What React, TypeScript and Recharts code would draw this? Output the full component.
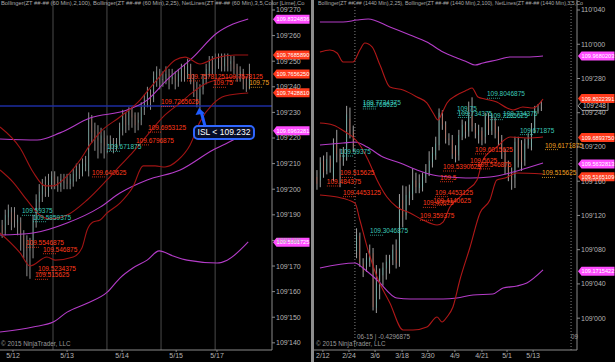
import { ComposedChart, Bar, Line, XAxis, YAxis, ReferenceLine, ReferenceDot } from 'recharts';

const FONT = '"Liberation Sans", Arial, sans-serif';
const RED = '#ff3b1c';
const TEAL = '#3cc8b8';
const ORANGE = '#f0a020';
const PINK = '#ff4cff';

// prices are kept in 32nds above 109 (109'245 -> 24.5), candles are [open, high, low, close]
const hourCandles = [
  [18.6, 18.8, 18.1, 18.3], [18.4, 19.2, 18.2, 19.0], [18.9, 19.4, 18.6, 19.2], [19.1, 19.3, 18.4, 18.7],
  [19.1, 19.3, 18.5, 18.8], [18.7, 19.0, 18.2, 18.8], [18.7, 18.9, 17.6, 18.2], [18.2, 18.4, 17.3, 17.8],
  [17.9, 18.2, 16.6, 17.6], [17.6, 18.1, 16.5, 17.9], [17.8, 19.0, 17.3, 18.9], [18.8, 19.8, 18.5, 19.6],
  [19.5, 20.2, 19.2, 19.9], [19.8, 20.4, 19.5, 20.2], [20.2, 20.5, 19.7, 19.9], [19.9, 20.6, 19.7, 20.3],
  [20.2, 20.7, 20.0, 20.5], [20.5, 20.7, 20.0, 20.2], [20.3, 20.5, 19.9, 20.1], [20.1, 20.6, 19.9, 20.4],
  [20.3, 20.6, 20.0, 20.3], [20.4, 20.6, 20.0, 20.2], [20.2, 20.6, 20.0, 20.4], [20.3, 20.8, 20.1, 20.6],
  [20.5, 21.0, 20.3, 20.8], [20.8, 21.0, 20.4, 20.6], [20.6, 21.2, 20.5, 21.0], [20.9, 21.3, 20.7, 21.0],
  [20.7, 23.0, 20.5, 22.8], [22.8, 22.9, 21.8, 22.2], [22.3, 22.6, 21.5, 22.0], [22.0, 22.5, 21.2, 21.9],
  [21.8, 22.4, 21.4, 22.1], [22.0, 22.3, 21.2, 21.7], [21.7, 22.1, 21.4, 21.8], [21.7, 22.1, 21.5, 21.9],
  [21.9, 22.0, 21.4, 21.7], [21.7, 22.0, 21.5, 21.8], [21.8, 22.6, 21.7, 22.4], [22.3, 23.1, 22.1, 22.9],
  [22.9, 23.0, 22.2, 22.5], [22.5, 23.2, 22.3, 23.1], [23.1, 23.2, 22.4, 22.8], [22.9, 23.0, 22.2, 22.5],
  [22.6, 23.0, 22.3, 22.7], [22.7, 23.4, 22.5, 23.2], [23.1, 23.7, 22.9, 23.5], [23.5, 24.0, 23.2, 23.8],
  [23.8, 23.9, 23.1, 23.4], [23.5, 24.6, 23.4, 24.4], [24.2, 24.8, 24.0, 24.6], [24.6, 24.7, 23.9, 24.3],
  [24.3, 24.6, 24.0, 24.3], [24.3, 24.8, 24.1, 24.5], [24.5, 24.7, 23.9, 24.2], [24.3, 24.7, 24.1, 24.4],
  [24.4, 24.6, 23.9, 24.2], [24.2, 24.7, 24.0, 24.5], [24.4, 24.9, 24.2, 24.7], [24.7, 24.9, 24.2, 24.4],
  [24.4, 25.1, 24.3, 24.8], [24.8, 24.9, 24.1, 24.3], [24.3, 24.5, 23.6, 23.9], [23.9, 24.2, 23.2, 23.5],
  [23.5, 24.1, 23.0, 23.9], [23.9, 24.5, 23.7, 24.3], [24.3, 24.9, 24.1, 24.7], [24.6, 25.2, 24.4, 25.0],
  [25.0, 25.2, 24.5, 24.7], [24.7, 25.3, 24.5, 25.1], [25.0, 25.3, 24.7, 25.0], [25.1, 25.3, 24.6, 24.8],
  [24.8, 25.3, 24.6, 25.1], [25.1, 25.3, 24.6, 24.8], [24.9, 25.2, 24.6, 25.0], [25.0, 25.2, 24.5, 24.7],
  [24.8, 24.9, 24.2, 24.4], [24.4, 24.8, 24.2, 24.6], [24.6, 24.7, 23.9, 24.1], [24.2, 24.4, 23.8, 24.0],
  [24.0, 24.9, 23.9, 24.6],
];

const dayCandles = [
  [16.5, 17.3, 15.0, 15.7], [16.1, 18.8, 15.3, 18.2], [18.4, 19.0, 16.4, 17.0], [17.2, 19.4, 16.8, 18.6],
  [18.6, 19.0, 17.0, 17.6], [16.6, 21.0, 16.0, 20.4], [20.4, 22.0, 18.2, 19.2], [19.2, 19.8, 15.3, 18.4],
  [18.4, 20.0, 17.8, 19.0], [18.9, 24.8, 18.4, 23.8], [23.3, 24.6, 21.0, 21.6], [21.8, 22.5, 19.4, 20.0],
  [7.8, 10.5, 7.0, 9.7], [9.6, 10.0, 6.0, 6.5], [6.4, 7.0, 4.8, 5.4], [6.0, 7.6, 5.4, 7.0],
  [6.6, 8.6, 6.0, 7.8], [7.6, 8.2, 0.9, 1.3], [1.2, 6.2, 0.6, 4.2], [3.8, 5.8, 2.2, 5.0],
  [5.0, 6.5, 3.8, 5.9], [5.8, 7.4, 4.5, 6.6], [6.4, 7.4, 5.2, 6.9], [6.8, 8.6, 6.2, 8.0],
  [8.0, 9.2, 5.8, 6.4], [6.5, 14.5, 6.0, 13.8], [13.8, 15.5, 10.6, 11.8], [12.0, 15.4, 11.5, 14.4],
  [14.0, 15.6, 13.2, 14.8], [14.5, 17.5, 13.8, 16.1], [16.1, 17.0, 14.6, 15.3], [15.2, 16.8, 14.6, 15.8],
  [15.3, 17.0, 14.8, 16.5], [16.4, 18.0, 15.8, 17.2], [17.0, 19.5, 16.6, 18.4], [18.2, 20.0, 17.6, 19.3],
  [19.0, 21.2, 18.5, 20.4], [20.2, 24.5, 19.6, 24.0], [23.6, 24.3, 22.0, 22.6], [22.6, 23.0, 20.4, 21.0],
  [21.0, 21.6, 20.2, 20.8], [20.8, 21.4, 18.6, 19.2], [19.6, 20.2, 18.2, 18.8], [19.0, 22.0, 18.4, 21.4],
  [21.2, 23.2, 20.8, 22.6], [22.6, 23.0, 21.0, 21.8], [21.8, 25.3, 21.2, 23.7], [23.7, 25.8, 21.8, 22.4],
  [22.2, 22.8, 21.0, 21.6], [21.4, 22.6, 20.4, 22.0], [21.9, 22.3, 20.2, 20.8], [21.2, 24.0, 20.4, 23.6],
  [23.4, 24.0, 21.4, 22.0], [21.9, 23.8, 21.4, 23.2], [23.0, 23.4, 21.0, 21.6], [21.8, 22.4, 20.2, 20.8],
  [20.8, 21.4, 18.6, 19.2], [19.2, 19.8, 16.8, 17.6], [17.8, 18.4, 16.0, 16.8], [16.9, 17.6, 15.0, 16.2],
  [16.4, 21.2, 15.2, 20.6], [20.8, 21.2, 17.6, 18.5], [20.4, 20.8, 17.2, 18.2], [18.4, 21.0, 17.8, 20.4],
  [20.2, 21.6, 19.8, 21.2], [20.0, 22.8, 19.6, 22.2], [22.0, 24.8, 21.6, 24.4], [24.2, 25.0, 23.9, 24.5],
  [24.6, 25.4, 24.2, 24.6],
];

// band curves, [bar index, level]
const hourBand100Up = [[-0.7, 21.96], [11.3, 21.92], [18.7, 22.2], [28.4, 22.78], [40.4, 23.09], [46.9, 23.48], [53.3, 24.27], [61.8, 25.16], [69.5, 26.1], [74.7, 26.45], [79.6, 26.65]];
const hourBand100Mid = [[-0.7, 18.21], [10, 18.29], [21, 18.68], [31.7, 19.3], [38.1, 19.85], [46.9, 20.36], [57.6, 20.75], [68.2, 21.53], [74.7, 21.92], [79.6, 22.27]];
const hourBand100Low = [[-0.7, 14.42], [10, 14.62], [16.5, 14.81], [21, 15.2], [27.5, 15.55], [34, 15.98], [38.1, 16.53], [42.3, 16.92], [46.9, 17.23], [50.8, 17.59], [55.3, 17.39], [59.8, 17.23], [69.5, 17.12], [72.8, 17.23], [79.6, 17.94]];
const hourBand25Up = [[-0.7, 22.43], [5.8, 21.61], [10, 20.67], [13.9, 20.13], [16.5, 20.13], [21, 20.52], [25.2, 21.14], [28.4, 21.73], [31.7, 22.23], [38.1, 22.82], [44.6, 23.48], [47.8, 23.95], [51.1, 24.42], [56, 25.05], [59.2, 25.16], [64, 24.89], [68.9, 25.12], [75.4, 25.24], [79.6, 25.24]];
const hourBand25Mid = [[-0.7, 20.75], [3.5, 20.28], [8, 19.58], [12.2, 18.99], [15.5, 18.84], [21, 18.99], [27.5, 19.58], [33.9, 20.36], [38.1, 20.91], [42.3, 21.45], [47.8, 22.23], [52.7, 22.9], [57.6, 23.37], [61.8, 23.8], [65.6, 24.11], [70.5, 24.3], [75.4, 24.38], [79.6, 24.38]];
const hourBand25Low = [[-0.7, 18.29], [5.8, 17.51], [9, 17.0], [14.5, 17.35], [17.1, 17.23], [23, 17.35], [25.8, 17.7], [27.5, 18.41], [29.4, 18.72], [31.7, 18.8], [33.9, 19.07], [38.1, 19.46], [42.3, 20.09], [45.6, 20.91], [49.5, 20.91], [52.7, 20.87], [56.9, 21.14], [60.8, 21.73], [64, 22.63], [68.2, 23.33], [72.1, 23.64], [79.6, 23.76]];

const dayBand100Up = [[0.9, 34.6], [7.9, 34.6], [12.1, 34.83], [15.5, 34.95], [22.1, 34.01], [28.2, 33.08], [33.3, 32.26], [38.2, 31.09], [42.4, 30.39], [45.5, 29.93], [47.9, 29.57], [50.3, 29.81], [54.5, 30.16], [58.5, 30.51], [63.6, 30.51], [68.5, 30.63]];
const dayBand100Mid = [[0.9, 20.23], [7.9, 20.46], [11.5, 20.58], [15.2, 20.0], [20, 18.83], [25.2, 18.13], [30.3, 17.31], [35.2, 16.72], [40.3, 16.49], [46.4, 16.37], [52.4, 16.49], [58.5, 16.96], [63.6, 17.54], [68.5, 18.13]];
const dayBand100Low = [[0.9, 5.86], [11.5, 6.44], [13.9, 5.86], [18.2, 4.46], [24.2, 2.36], [28.2, 2.24], [38.2, 2.24], [42.4, 2.36], [47.3, 2.71], [53.3, 2.82], [56.4, 3.52], [60.6, 3.76], [63.6, 4.11], [68.5, 5.63]];
const dayBand25Up = [[0.9, 31.09], [3.9, 31.33], [6.1, 30.98], [7.9, 29.93], [10.9, 29.93], [13, 31.33], [14.5, 32.14], [16.7, 31.68], [19.1, 29.57], [22.1, 27.0], [26.1, 26.65], [30.3, 25.84], [33.3, 25.14], [35.2, 23.97], [36.7, 23.15], [37.9, 23.97], [39.4, 25.14], [42.4, 26.07], [45.5, 26.65], [47, 26.89], [48.8, 25.84], [50.9, 25.6], [54.5, 25.25], [57.6, 24.55], [59.4, 24.32], [62.4, 24.67], [65.5, 24.55], [67.6, 25.14], [68.5, 25.6]];
const dayBand25Mid = [[0.9, 22.8], [4.8, 22.57], [9.1, 21.63], [10.9, 21.16], [13, 20.23], [15.5, 18.48], [18.2, 16.14], [21.2, 14.15], [24.2, 12.99], [28.2, 12.29], [32.1, 11.47], [36.4, 10.88], [38.2, 11.23], [40.3, 12.99], [43.3, 14.15], [45.5, 14.97], [48.5, 16.14], [50.3, 18.48], [54.5, 20.0], [58.5, 21.16], [63.6, 21.05], [68.5, 21.16]];
const dayBand25Low = [[0.9, 14.39], [6.1, 14.15], [11.5, 13.45], [13, 11.47], [15.2, 8.31], [18.2, 4.81], [22.1, 1.77], [26.1, -1.38], [29.1, -1.38], [33.3, -1.03], [36.4, 0.14], [37.9, -0.45], [39.4, 0.14], [41.2, 1.3], [43.3, 4.46], [46.4, 8.31], [49.4, 12.29], [52.4, 13.8], [54.5, 16.14], [57, 16.37], [60.6, 16.96], [68.5, 16.84]];

const hourTickLevels = [14, 15, 16, 17, 18, 19, 20, 21, 22, 23, 24, 25, 26, 27];
const dayTickLevels = [0, 4, 8, 12, 16, 20, 24, 28, 32, 36];

const hourDates = ['5/12', '5/13', '5/14', '5/15', '5/17'];
const hourDateIdx = [3.5, 21, 38.8, 56.3, 69.5];
const hourSessionIdx = [16.45, 33.9, 51.4, 68.9];

const dayDates = ['2/12', '2/24', '3/6', '3/18', '3/30', '4/9', '4/21', '5/1', '5/13'];
const dayDateIdx = [1.8, 9.7, 17.6, 25.8, 33.6, 41.8, 50, 57.6, 65.5];
const daySessionIdx = [11.5, 77];

// NetLines notes: [bar index, price text, colour]
const hourNotes: [number, string, string][] = [
  [59.8, '109.7578125', RED], [72.1, '109.7578125', RED], [68.2, '109.75', RED], [79.9, '109.75', ORANGE],
  [51.4, '109.7265625', RED], [47.2, '109.6953125', RED], [43.3, '109.6796875', RED], [33.9, '109.671875', TEAL],
  [29.1, '109.640625', RED], [6.4, '109.59375', TEAL], [10, '109.5859375', TEAL], [7.7, '109.5546875', RED],
  [13.2, '109.546875', RED], [11.6, '109.5234375', RED], [10.6, '109.515625', RED],
];
const dayNotes: [number, string, string][] = [
  [13.9, '109.7734375', TEAL], [13.9, '109.765625', TEAL], [7, '109.59375', TEAL], [7, '109.515625', RED],
  [3, '109.484375', RED], [7.9, '109.4453125', RED], [16.1, '109.3046875', TEAL], [35.8, '109.4453125', RED],
  [35.2, '109.4140625', RED], [32.1, '109.40625', RED], [31.2, '109.359375', RED], [38.2, '109.5390625', RED],
  [37.3, '109.5', RED], [46.4, '109.5625', RED], [48.5, '109.546875', RED], [47.9, '109.6015625', RED],
  [42.4, '109.75', TEAL], [42.7, '109.734375', TEAL], [52.4, '109.7265625', TEAL], [56.4, '109.734375', TEAL],
  [51.5, '109.8046875', TEAL], [61.5, '109.671875', TEAL], [69.1, '109.6171875', ORANGE], [68.2, '109.515625', ORANGE],
];

// price flags on the axis: [text, level where drawn, fill]
const hourFlags: [string, number, string][] = [
  ['109.8324836', 26.64, PINK], ['109.7685890', 25.24, RED], ['109.7656250', 24.5, RED],
  ['109.7428810', 23.77, RED], ['109.6963281', 22.28, PINK], ['109.5601725', 17.93, PINK],
];
const dayFlags: [string, number, string][] = [
  ['109.9680203', 30.63, PINK], ['109.8022391', 25.67, RED], ['109.6893750', 21.1, RED],
  ['109.5632813', 18.02, PINK], ['109.5165109', 16.53, RED], ['109.1715422', 5.49, PINK],
];
const dayLast = 24.8;
const islLevel = 23.25;

const fmt32 = (v: number) => {
  const whole = 109 + Math.floor(v / 32 + 1e-9);
  const frac = v - (whole - 109) * 32;
  return `${whole}'${String(Math.round(frac * 10)).padStart(3, '0')}`;
};

const toRows = (list: number[][]) =>
  list.map(([o, h, l, c], i) => ({ i, o, h, l, c, range: [l, h] }));
const toPts = (list: number[][]) => list.map(([i, v]) => ({ i, v }));
const noteLevel = (p: string) => (parseFloat(p) - 109) * 32;

const Candle = (props: any) => {
  const { x, y, width, height, payload, up, down, wick } = props;
  if (!payload) return null;
  const { o, h, l, c } = payload;
  const top = Math.min(y, y + height);
  const bot = Math.max(y, y + height);
  const k = (bot - top) / (h - l || 1);
  const yOf = (v: number) => top + (h - v) * k;
  const cx = x + width / 2;
  const bTop = yOf(Math.max(o, c));
  const bBot = yOf(Math.min(o, c));
  const fill = c > o ? up : c < o ? down : '#b0b0b0';
  return (
    <g>
      <line x1={cx} x2={cx} y1={top} y2={bot} stroke={wick} strokeWidth={1} />
      <rect x={x} y={bTop} width={width} height={Math.max(1, bBot - bTop)} fill={fill} />
    </g>
  );
};

const Note = ({ cx, cy, text, color }: any) => (
  <g>
    <text x={cx} y={cy - 1.5} fill={color} fontSize={6.5} fontFamily={FONT}>{text}</text>
    <line x1={cx} x2={cx + 13} y1={cy + 0.5} y2={cy + 0.5} stroke={color} strokeWidth={0.8} strokeDasharray="1 1" />
  </g>
);

const Flag = ({ cx, cy, text, fill }: any) => (
  <g>
    <path d={`M${cx + 1},${cy} L${cx + 4.5},${cy - 4.5} L${cx + 37.5},${cy - 4.5} L${cx + 37.5},${cy + 4.5} L${cx + 4.5},${cy + 4.5} Z`} fill={fill} />
    <text x={cx + 4.6} y={cy + 2.2} fill="#ffffff" fontSize={5.6} fontFamily={FONT}>{text}</text>
  </g>
);

const LastBox = ({ cx, cy, text }: any) => (
  <g>
    <path d={`M${cx + 1},${cy} L${cx + 5},${cy - 4.5} L${cx + 31},${cy - 4.5} L${cx + 31},${cy + 4.5} L${cx + 5},${cy + 4.5} Z`} fill="#000" stroke="#bdbdbd" strokeWidth={0.8} />
    <text x={cx + 6} y={cy + 2.4} fill="#c8c8c8" fontSize={6.5} fontFamily={FONT}>{text}</text>
  </g>
);

const IslCallout = ({ cx, cy }: any) => (
  <g>
    <line x1={cx + 5} y1={cy + 20} x2={cx + 1.5} y2={cy + 7} stroke="#1e5bff" strokeWidth={3} />
    <path d={`M${cx - 1},${cy + 2} L${cx - 4.5},${cy + 9} L${cx + 5},${cy + 7.5} Z`} fill="#1e5bff" />
    <rect x={cx - 6} y={cy + 20} width={60} height={13} rx={4} fill="#050c26" stroke="#2f66ff" strokeWidth={2} />
    <text x={cx + 24} y={cy + 29.5} textAnchor="middle" fill="#ffffff" fontSize={8.5} fontFamily={FONT}>ISL &lt; 109.232</text>
  </g>
);

const axisTick = { fill: '#b4b4b4', fontSize: 7, fontFamily: FONT };

type PanelProps = {
  rows: any[];
  width: number;
  axisWidth: number;
  xDomain: [number, number];
  yDomain: [number, number];
  yTicks: number[];
  dateIdx: number[];
  dates: string[];
  bands: { pts: number[][]; color: string }[];
  notes: [number, string, string][];
  flags: [string, number, string][];
  barSize: number;
  up: string;
  down: string;
  wick: string;
  children?: any;
};

function Panel(p: PanelProps) {
  return (
    <ComposedChart width={p.width} height={362} data={p.rows} margin={{ top: 0, right: 0, bottom: 0, left: 0 }}>
      <XAxis
        type="number"
        dataKey="i"
        domain={p.xDomain}
        allowDataOverflow
        ticks={p.dateIdx}
        interval={0}
        tickFormatter={(v: number) => p.dates[p.dateIdx.indexOf(v)] ?? ''}
        height={12}
        tickSize={2}
        tickMargin={1}
        axisLine={{ stroke: '#8a8a8a' }}
        tickLine={{ stroke: '#8a8a8a' }}
        tick={axisTick}
      />
      <YAxis
        orientation="right"
        type="number"
        domain={p.yDomain}
        allowDataOverflow
        ticks={p.yTicks}
        interval={0}
        tickFormatter={fmt32}
        width={p.axisWidth}
        tickSize={3}
        tickMargin={1}
        axisLine={{ stroke: '#8a8a8a' }}
        tickLine={{ stroke: '#8a8a8a' }}
        tick={axisTick}
      />
      {p.children}
      {p.bands.map((b, k) => (
        <Line
          key={k}
          data={toPts(b.pts)}
          dataKey="v"
          type="monotone"
          stroke={b.color}
          strokeWidth={1.1}
          dot={false}
          activeDot={false}
          isAnimationActive={false}
        />
      ))}
      <Bar
        dataKey="range"
        barSize={p.barSize}
        isAnimationActive={false}
        shape={(s: any) => <Candle {...s} up={p.up} down={p.down} wick={p.wick} />}
      />
      {p.notes.map(([i, text, color], k) => (
        <ReferenceDot
          key={'n' + k}
          x={i}
          y={noteLevel(text)}
          ifOverflow="visible"
          shape={(s: any) => <Note {...s} text={text} color={color} />}
        />
      ))}
      {p.flags.map(([text, level, fill], k) => (
        <ReferenceDot
          key={'f' + k}
          x={p.xDomain[1]}
          y={level}
          ifOverflow="visible"
          shape={(s: any) => <Flag {...s} text={text} fill={fill} />}
        />
      ))}
    </ComposedChart>
  );
}

export default function App() {
  const txt = (style: any) => ({
    position: 'absolute' as const,
    fontFamily: FONT,
    color: '#a8a8a8',
    whiteSpace: 'nowrap' as const,
    lineHeight: 1,
    ...style,
  });
  return (
    <div style={{ position: 'fixed', left: 0, top: 0, width: 615, height: 362, background: '#000', overflow: 'hidden' }}>
      <div style={{ position: 'absolute', left: 0, top: 0 }}>
        <Panel
          rows={toRows(hourCandles)}
          width={311}
          axisWidth={39}
          xDomain={[-0.7, 87.3]}
          yDomain={[13.72, 27.39]}
          yTicks={hourTickLevels}
          dateIdx={hourDateIdx}
          dates={hourDates}
          bands={[
            { pts: hourBand100Up, color: '#b43cc8' },
            { pts: hourBand100Mid, color: '#b43cc8' },
            { pts: hourBand100Low, color: '#b43cc8' },
            { pts: hourBand25Up, color: '#a01414' },
            { pts: hourBand25Mid, color: '#a01414' },
            { pts: hourBand25Low, color: '#a01414' },
          ]}
          notes={hourNotes}
          flags={hourFlags}
          barSize={2}
          up="#4fc7b5"
          down="#c4553f"
          wick="#8c8c8c"
        >
          {hourSessionIdx.map((x) => (
            <ReferenceLine key={x} x={x} stroke="#4a4a4a" strokeWidth={1} />
          ))}
          <ReferenceLine y={islLevel} stroke="#1c2ca0" strokeWidth={1.6} />
          <ReferenceDot x={64} y={islLevel} ifOverflow="visible" shape={(s: any) => <IslCallout {...s} />} />
        </Panel>
      </div>
      <div style={{ position: 'absolute', left: 311, top: 0, width: 3, height: 362, background: '#8c8c8c' }} />
      <div style={{ position: 'absolute', left: 314, top: 0 }}>
        <Panel
          rows={toRows(dayCandles)}
          width={301}
          axisWidth={38}
          xDomain={[-0.9, 78.8]}
          yDomain={[-3.72, 37.17]}
          yTicks={dayTickLevels}
          dateIdx={dayDateIdx}
          dates={dayDates}
          bands={[
            { pts: dayBand100Up, color: '#b43cc8' },
            { pts: dayBand100Mid, color: '#b43cc8' },
            { pts: dayBand100Low, color: '#b43cc8' },
            { pts: dayBand25Up, color: '#b01818' },
            { pts: dayBand25Mid, color: '#b01818' },
            { pts: dayBand25Low, color: '#b01818' },
          ]}
          notes={dayNotes}
          flags={dayFlags}
          barSize={3}
          up="#3fdcc8"
          down="#ff4a24"
          wick="#a0a0a0"
        >
          {daySessionIdx.map((x) => (
            <ReferenceLine key={x} x={x} stroke="#808080" strokeWidth={1} strokeDasharray="1 2" />
          ))}
          <ReferenceDot x={78.8} y={dayLast} ifOverflow="visible" shape={(s: any) => <LastBox {...s} text={fmt32(dayLast)} />} />
        </Panel>
      </div>
      <div style={txt({ left: 1, top: 1, fontSize: 5.8 })}>
        Bollinger(ZT ##-## (60 Min),2,100), Bollinger(ZT ##-## (60 Min),2,25), NetLines(ZT ##-## (60 Min),3,5,Color [Lime],Co
      </div>
      <div style={txt({ left: 318, top: 1, fontSize: 5.3 })}>
        Bollinger(ZT ##-## (1440 Min),2,25), Bollinger(ZT ##-## (1440 Min),2,100), NetLines(ZT ##-## (1440 Min),3,5,Co
      </div>
      <div style={txt({ left: 1, top: 341, fontSize: 6.3, color: '#9a9a9a' })}>© 2015 NinjaTrader, LLC</div>
      <div style={txt({ left: 316, top: 341, fontSize: 6.3, color: '#9a9a9a' })}>© 2015 NinjaTrader, LLC</div>
      <div style={txt({ left: 357, top: 334, fontSize: 6.3, color: '#9a9a9a' })}>06-15 | -0.4296875</div>
      <div style={txt({ left: 571, top: 334, fontSize: 6.3, color: '#9a9a9a' })}>09</div>
    </div>
  );
}
